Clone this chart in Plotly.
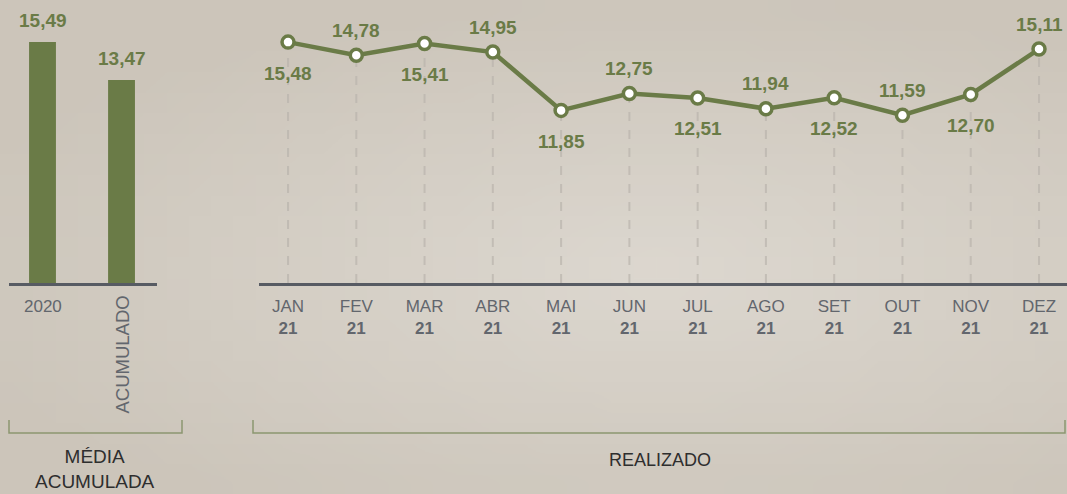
import base64, struct, zlib
import plotly.graph_objects as go

# ---------------- data ----------------
bar_categories = ["2020", "ACUMULADO"]
bar_values = [15.49, 13.47]

months = ["JAN", "FEV", "MAR", "ABR", "MAI", "JUN", "JUL", "AGO", "SET", "OUT", "NOV", "DEZ"]
year_labels = ["21"] * 12
line_values = [15.48, 14.78, 15.41, 14.95, 11.85, 12.75, 12.51, 11.94, 12.52, 11.59, 12.70, 15.11]

group_left = "MÉDIA<br>ACUMULADA"
group_right = "REALIZADO"

# ---------------- styles ----------------
W, H = 1067, 494
GREEN = "#6a7b47"
AXIS = "#575b63"
TICK = "#62666d"
FONT = "Liberation Sans, Arial, sans-serif"
Y_RANGE = [2.67, 17.72]
Y_DOMAIN = [(H - 283) / H, 1.0]


def fmt(v):
    return f"{v:.2f}".replace(".", ",")


def make_png(w, h, fn):
    rows = []
    for j in range(h):
        row = bytearray([0])
        for i in range(w):
            row.extend(fn(i / (w - 1), j / (h - 1)))
        rows.append(bytes(row))
    raw = b"".join(rows)

    def chunk(t, d):
        c = struct.pack(">I", len(d)) + t + d
        return c + struct.pack(">I", zlib.crc32(t + d) & 0xFFFFFFFF)

    png = b"\x89PNG\r\n\x1a\n"
    png += chunk(b"IHDR", struct.pack(">IIBBBBB", w, h, 8, 2, 0, 0, 0))
    png += chunk(b"IDAT", zlib.compress(raw, 9))
    png += chunk(b"IEND", b"")
    return "data:image/png;base64," + base64.b64encode(png).decode()


def bg(u, v):
    # soft radial lightening towards center-right
    cx, cy = 0.62, 0.55
    d = ((u - cx) ** 2 * 1.0 + (v - cy) ** 2 * 1.6) ** 0.5
    t = max(0.0, min(1.0, d / 0.75))
    light = (221, 216, 208)
    dark = (204, 197, 186)
    return bytes(int(light[k] + (dark[k] - light[k]) * t) for k in range(3))


bg_src = make_png(48, 24, bg)

fig = go.Figure()

# bars
fig.add_trace(go.Bar(
    x=list(range(len(bar_categories))), y=bar_values, width=0.34,
    marker=dict(color=GREEN, line=dict(width=0)),
    xaxis="x", yaxis="y", hoverinfo="skip", showlegend=False,
))

# line
xi = list(range(len(months)))
fig.add_trace(go.Scatter(
    x=xi, y=line_values, mode="lines+markers",
    line=dict(color=GREEN, width=4.5),
    marker=dict(size=12, color="white", line=dict(color=GREEN, width=3.5)),
    xaxis="x2", yaxis="y2", hoverinfo="skip", showlegend=False, cliponaxis=False,
))

shapes = []
annotations = []

# dashed guide lines from points to axis
for i, v in enumerate(line_values):
    shapes.append(dict(type="line", xref="x2", yref="y2", x0=i, x1=i, y0=Y_RANGE[0], y1=v,
                       line=dict(color="rgba(185,180,172,0.7)", width=2, dash="dash"), layer="below"))

# value labels on line, alternating below/above
for i, v in enumerate(line_values):
    above = (i % 2 == 1)
    annotations.append(dict(x=i, y=v, xref="x2", yref="y2", text=f"<b>{fmt(v)}</b>",
                            showarrow=False, yanchor="middle", yshift=25 if above else -31,
                            font=dict(family=FONT, size=19, color=GREEN)))

# bar value labels
for i, v in enumerate(bar_values):
    annotations.append(dict(x=i, y=v, xref="x", yref="y", text=f"<b>{fmt(v)}</b>",
                            showarrow=False, yanchor="middle", yshift=21,
                            font=dict(family=FONT, size=19, color=GREEN)))

# bar category labels
annotations.append(dict(x=0, y=Y_RANGE[0], xref="x", yref="y", text=bar_categories[0],
                        showarrow=False, yanchor="top", yshift=-12,
                        font=dict(family=FONT, size=17, color=TICK)))
annotations.append(dict(x=1, y=Y_RANGE[0], xref="x", yref="y", text=bar_categories[1],
                        showarrow=False, yanchor="top", yshift=-11, textangle=-90,
                        font=dict(family=FONT, size=18.5, color=TICK)))

# group brackets
BR = "#8c9670"
yb = (H - 433) / H
yt = (H - 420) / H
for x0, x1 in [(9, 182), (253, 1065)]:
    shapes.append(dict(type="path", xref="paper", yref="paper",
                       path=f"M {x0/W},{yt} L {x0/W},{yb} L {x1/W},{yb} L {x1/W},{yt}",
                       line=dict(color=BR, width=1.5)))

annotations.append(dict(x=95 / W, y=(H - 469) / H, xref="paper", yref="paper", text=group_left,
                        showarrow=False, yanchor="middle", xanchor="center",
                        font=dict(family=FONT, size=19, color="#2e2e2e")))
annotations.append(dict(x=660 / W, y=(H - 460) / H, xref="paper", yref="paper", text=group_right,
                        showarrow=False, yanchor="middle", xanchor="center",
                        font=dict(family=FONT, size=18, color="#2e2e2e")))

ticktext = [f"{m}<br><b>{y}</b>" for m, y in zip(months, year_labels)]

fig.update_layout(
    width=W, height=H,
    margin=dict(l=0, r=0, t=0, b=0),
    paper_bgcolor="#d6d0c7",
    plot_bgcolor="rgba(0,0,0,0)",
    showlegend=False,
    images=[dict(source=bg_src, xref="paper", yref="paper", x=0, y=1, sizex=1, sizey=1,
                 sizing="stretch", layer="below", xanchor="left", yanchor="top")],
    xaxis=dict(domain=[9 / W, 157 / W], range=[-0.424, 1.449], showline=True, linecolor=AXIS,
               linewidth=2.5, showgrid=False, zeroline=False, showticklabels=False, ticks=""),
    yaxis=dict(domain=Y_DOMAIN, range=Y_RANGE, visible=False),
    xaxis2=dict(domain=[259 / W, 1.0], range=[-0.425, 11.41], anchor="y2", showline=True,
                linecolor=AXIS, linewidth=2.5, showgrid=False, zeroline=False, ticks="",
                tickvals=xi, ticktext=ticktext, ticklabelstandoff=6,
                tickfont=dict(family=FONT, size=17, color=TICK)),
    yaxis2=dict(domain=Y_DOMAIN, range=Y_RANGE, anchor="x2", visible=False),
    shapes=shapes,
    annotations=annotations,
)

fig.write_html(
    "out.html",
    config={"displayModeBar": False},
    post_script="document.body.style.margin='0';document.body.style.padding='0';"
                "document.body.style.overflow='hidden';",
)
